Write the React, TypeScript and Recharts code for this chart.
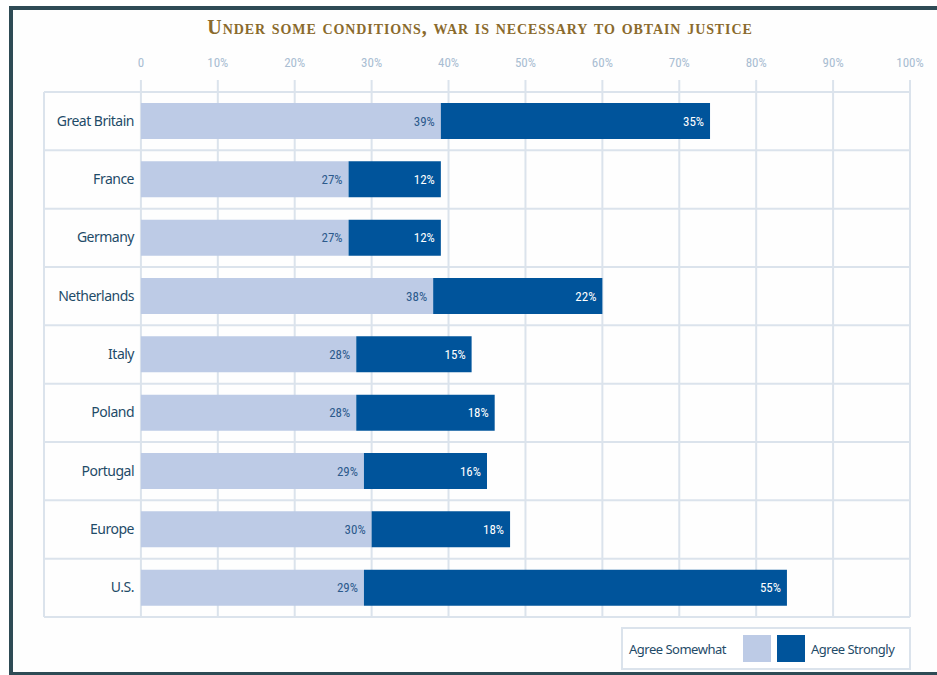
import React from "react";
import {
  BarChart,
  Bar,
  XAxis,
  YAxis,
  CartesianGrid,
  LabelList,
} from "recharts";

const countries = [
  "Great Britain",
  "France",
  "Germany",
  "Netherlands",
  "Italy",
  "Poland",
  "Portugal",
  "Europe",
  "U.S.",
];
const agreeSomewhat = [39, 27, 27, 38, 28, 28, 29, 30, 29];
const agreeStrongly = [35, 12, 12, 22, 15, 18, 16, 18, 55];
const xTicks = [0, 10, 20, 30, 40, 50, 60, 70, 80, 90, 100];
const rowBoundaries = [0, 1, 2, 3, 4, 5, 6, 7, 8, 9];
const labelColumnMin = -12.6;

const seriesNames = ["Agree Somewhat", "Agree Strongly"];
const LIGHT = "#bdcbe6";
const DARK = "#00549b";
const GRID = "#dbe3ec";
const TEXT = "#1f4b68";
const NUM_FONT = "'Liberation Sans Narrow', 'Roboto Condensed', 'Noto Sans', sans-serif";
const LABEL_FONT = "'Noto Sans', 'DejaVu Sans', sans-serif";

const data = countries.map((c, i) => ({
  country: c,
  somewhat: agreeSomewhat[i],
  strongly: agreeStrongly[i],
}));

const renderCountryTick = (props: any) => {
  const { x, y, payload } = props;
  return (
    <text
      x={x + 90}
      y={y}
      dy={4.5}
      textAnchor="end"
      fill={TEXT}
      fontFamily={LABEL_FONT}
      fontSize={14}
      letterSpacing={-0.5}
    >
      {payload.value}
    </text>
  );
};

const rowLines = ({ offset }: any) =>
  rowBoundaries.map((i) => offset.top + (i * offset.height) / countries.length);

export default function App() {
  return (
    <div
      style={{
        position: "absolute",
        left: 0,
        top: 0,
        width: 937,
        height: 675,
        overflow: "hidden",
        background: "#ffffff",
      }}
    >
      <div
        style={{
          position: "absolute",
          left: 9,
          top: 6,
          width: 928,
          height: 670,
          boxSizing: "border-box",
          borderTop: "4px solid #2e4b55",
          borderLeft: "4px solid #2e4b55",
          borderBottom: "4px solid #2e4b55",
          borderRight: "none",
          background: "#fefefe",
        }}
      />
      <div
        style={{
          position: "absolute",
          left: 0,
          top: 16,
          width: 960,
          textAlign: "center",
          fontFamily: "'Liberation Serif', 'DejaVu Serif', serif",
          fontVariant: "small-caps",
          fontWeight: 700,
          fontSize: 20,
          color: "#8a6a2c",
          letterSpacing: 0.9,
        }}
      >
        Under some conditions, war is necessary to obtain justice
      </div>
      <div style={{ position: "absolute", left: 0, top: 0 }}>
        <BarChart
          width={937}
          height={675}
          data={data}
          layout="vertical"
          margin={{ top: 62, right: 27, bottom: 58, left: 43 }}
        >
          <CartesianGrid
            stroke={GRID}
            strokeWidth={2}
            horizontal={true}
            vertical={true}
            horizontalCoordinatesGenerator={rowLines}
          />
          <XAxis
            type="number"
            orientation="top"
            domain={[labelColumnMin, 100]}
            ticks={xTicks}
            allowDataOverflow
            height={30}
            axisLine={false}
            tickSize={12}
            tickMargin={13}
            tickLine={{ stroke: GRID, strokeWidth: 2 }}
            tick={{ fill: "#a9bdd2", fontSize: 13, fontFamily: NUM_FONT }}
            tickFormatter={(v: number) => (v === 0 ? "0" : `${v}%`)}
          />
          <YAxis
            type="category"
            dataKey="country"
            width={1}
            tickSize={0}
            tickMargin={0}
            tickLine={false}
            axisLine={{ stroke: GRID, strokeWidth: 2 }}
            tick={renderCountryTick}
            interval={0}
          />
          <Bar
            dataKey="somewhat"
            name={seriesNames[0]}
            stackId="a"
            fill={LIGHT}
            barSize={36}
            isAnimationActive={false}
          >
            <LabelList
              dataKey="somewhat"
              position="insideRight"
              offset={6}
              formatter={(v: any) => `${v}%`}
              fill="#2c5a8c"
              fontSize={13}
              fontFamily={NUM_FONT}
            />
          </Bar>
          <Bar
            dataKey="strongly"
            name={seriesNames[1]}
            stackId="a"
            fill={DARK}
            barSize={36}
            isAnimationActive={false}
          >
            <LabelList
              dataKey="strongly"
              position="insideRight"
              offset={6}
              formatter={(v: any) => `${v}%`}
              fill="#ffffff"
              fontSize={13}
              fontFamily={NUM_FONT}
            />
          </Bar>
        </BarChart>
      </div>
      <div
        style={{
          position: "absolute",
          left: 621,
          top: 627,
          width: 290,
          height: 43,
          boxSizing: "border-box",
          border: `2px solid ${GRID}`,
          background: "#ffffff",
          display: "flex",
          alignItems: "center",
          fontFamily: LABEL_FONT,
          fontSize: 13,
          letterSpacing: -0.5,
          color: TEXT,
        }}
      >
        <span style={{ marginLeft: 6, width: 114 }}>{seriesNames[0]}</span>
        <span
          style={{ width: 28, height: 27, background: LIGHT, display: "inline-block" }}
        />
        <span
          style={{
            width: 28,
            height: 27,
            background: DARK,
            display: "inline-block",
            marginLeft: 6,
          }}
        />
        <span style={{ marginLeft: 6 }}>{seriesNames[1]}</span>
      </div>
    </div>
  );
}
